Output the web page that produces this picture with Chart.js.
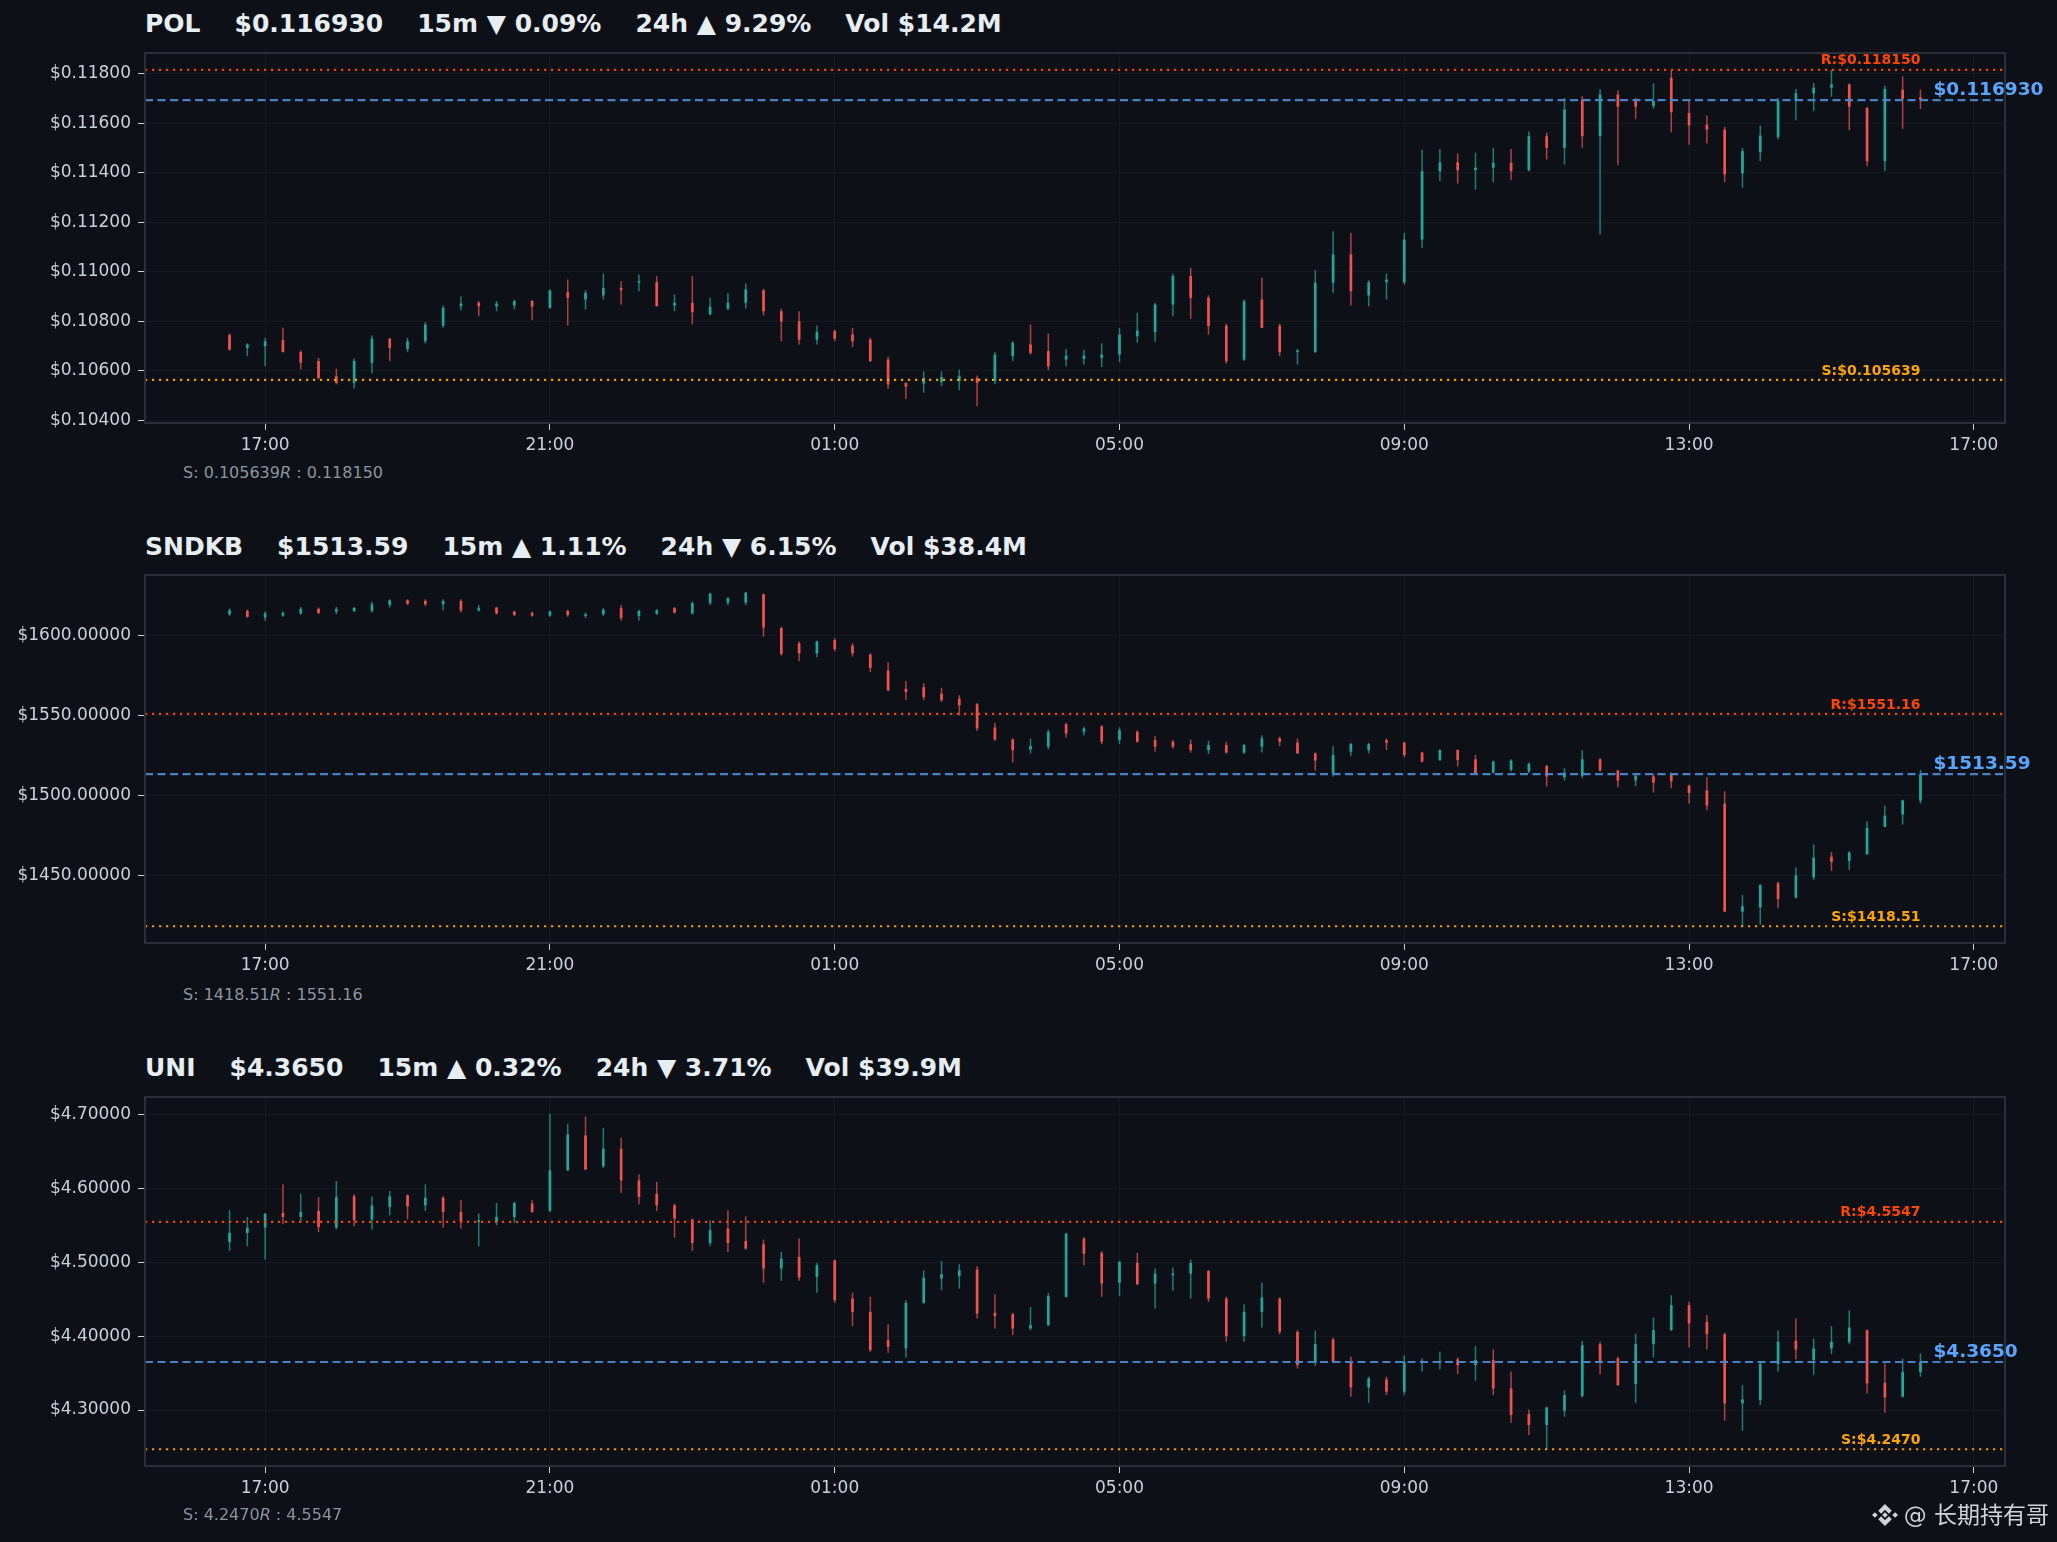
<!DOCTYPE html>
<html>
<head>
<meta charset="utf-8">
<script src="https://cdn.jsdelivr.net/npm/chart.js@4.4.1/dist/chart.umd.min.js"></script>
<style>
  html, body { margin: 0; padding: 0; background: #0d1117; }
  #page { position: relative; width: 2057px; height: 1542px; overflow: hidden; background: #0d1117; font-family: "DejaVu Sans", sans-serif; }
  .title { position: absolute; left: 145px; height: 30px; line-height: 30px; font-weight: bold; font-size: 25px; color: #e6edf3; white-space: pre; }
  .title span + span { margin-left: 34px; }
  .note { position: absolute; left: 183px; height: 20px; line-height: 20px; font-size: 16px; color: #8b949e; white-space: pre; }
  .panel { position: absolute; left: 0; width: 2057px; }
  .mark { position: absolute; right: 8px; top: 1500px; height: 30px; line-height: 30px; font-size: 23px; color: #d0d4da; font-family: "DejaVu Sans", "Noto Sans CJK SC", sans-serif; white-space: pre; display: flex; align-items: center; }
  .mark svg { margin-right: 6px; }
</style>
</head>
<body>
<div id="page">
  <div class="title" style="top:9px"><span>POL</span><span>$0.116930</span><span>15m ▼ 0.09%</span><span>24h ▲ 9.29%</span><span>Vol $14.2M</span></div>
  <div class="panel" style="top:43px;height:420px"><canvas id="c1"></canvas></div>
  <div class="note" style="top:463px">S: 0.105639<i>R</i> : 0.118150</div>

  <div class="title" style="top:532px"><span>SNDKB</span><span>$1513.59</span><span>15m ▲ 1.11%</span><span>24h ▼ 6.15%</span><span>Vol $38.4M</span></div>
  <div class="panel" style="top:565px;height:418px"><canvas id="c2"></canvas></div>
  <div class="note" style="top:985px">S: 1418.51<i>R</i> : 1551.16</div>

  <div class="title" style="top:1053px"><span>UNI</span><span>$4.3650</span><span>15m ▲ 0.32%</span><span>24h ▼ 3.71%</span><span>Vol $39.9M</span></div>
  <div class="panel" style="top:1087px;height:419px"><canvas id="c3"></canvas></div>
  <div class="note" style="top:1505px">S: 4.2470<i>R</i> : 4.5547</div>

  <div class="mark"><svg width="26" height="26" viewBox="0 0 100 100" fill="#d0d4da">
    <polygon points="0,50 11,39 22,50 11,61"/><polygon points="78,50 89,39 100,50 89,61"/>
    <polygon points="39,50 50,39 61,50 50,61"/>
    <polygon points="50,8 76,34 65,45 50,30 35,45 24,34"/><polygon points="50,92 76,66 65,55 50,70 35,55 24,66"/>
  </svg>@ 长期持有哥</div>
</div>
<script>
// 15-minute candles, 16:30 -> 16:15 next day
const times = [
  '16:30','16:45','17:00','17:15','17:30','17:45','18:00','18:15','18:30','18:45',
  '19:00','19:15','19:30','19:45','20:00','20:15','20:30','20:45','21:00','21:15',
  '21:30','21:45','22:00','22:15','22:30','22:45','23:00','23:15','23:30','23:45',
  '00:00','00:15','00:30','00:45','01:00','01:15','01:30','01:45','02:00','02:15',
  '02:30','02:45','03:00','03:15','03:30','03:45','04:00','04:15','04:30','04:45',
  '05:00','05:15','05:30','05:45','06:00','06:15','06:30','06:45','07:00','07:15',
  '07:30','07:45','08:00','08:15','08:30','08:45','09:00','09:15','09:30','09:45',
  '10:00','10:15','10:30','10:45','11:00','11:15','11:30','11:45','12:00','12:15',
  '12:30','12:45','13:00','13:15','13:30','13:45','14:00','14:15','14:30','14:45',
  '15:00','15:15','15:30','15:45','16:00','16:15'
];
const xTickTimes = [17, 21, 25, 29, 33, 37, 41];
const xTickLabels = ['17:00', '21:00', '01:00', '05:00', '09:00', '13:00', '17:00'];

// POL
const polOpen = [0.10745,0.10693,0.10700,0.10724,0.10676,0.10640,0.10579,0.10552,0.10633,0.10730,0.10689,0.10720,0.10783,0.10861,0.10875,0.10861,0.10864,0.10882,0.10855,0.10918,0.10888,0.10905,0.10935,0.10956,0.10958,0.10864,0.10875,0.10828,0.10851,0.10875,
  0.10926,0.10841,0.10800,0.10726,0.10761,0.10747,0.10726,0.10646,0.10552,0.10549,0.10555,0.10559,0.10572,0.10559,0.10660,0.10707,0.10680,0.10646,0.10649,0.10653,0.10666,0.10740,0.10757,0.10868,0.10983,0.10895,0.10783,0.10646,0.10888,0.10783,
  0.10676,0.10676,0.10956,0.11070,0.10905,0.10958,0.10958,0.11130,0.11406,0.11442,0.11410,0.11420,0.11440,0.11410,0.11547,0.11500,0.11695,0.11547,0.11715,0.11689,0.11668,0.11783,0.11641,0.11594,0.11574,0.11397,0.11483,0.11544,0.11689,0.11720,
  0.11743,0.11756,0.11661,0.11446,0.11735,0.117035];
const polHigh = [0.10751,0.10711,0.10734,0.10774,0.10683,0.10653,0.10609,0.10650,0.10743,0.10734,0.10734,0.10797,0.10864,0.10902,0.10882,0.10882,0.10888,0.10886,0.10929,0.10969,0.10926,0.10993,0.10962,0.10989,0.10983,0.10909,0.10983,0.10895,0.10915,0.10953,
  0.10931,0.10851,0.10841,0.10783,0.10767,0.10774,0.10734,0.10657,0.10554,0.10599,0.10599,0.10606,0.10582,0.10676,0.10720,0.10788,0.10751,0.10689,0.10686,0.10711,0.10774,0.10835,0.10875,0.10993,0.11016,0.10905,0.10791,0.10888,0.10976,0.10791,
  0.10689,0.11007,0.11164,0.11157,0.10966,0.10993,0.11157,0.11493,0.11496,0.11477,0.11480,0.11500,0.11496,0.11566,0.11561,0.11702,0.11709,0.11738,0.11733,0.11702,0.11760,0.11815,0.11697,0.11631,0.11585,0.11500,0.11590,0.11702,0.11738,0.11762,
  0.11815,0.11760,0.11666,0.11752,0.11789,0.11735];
const polLow = [0.10683,0.10660,0.10619,0.10676,0.10606,0.10566,0.10546,0.10529,0.10590,0.10640,0.10676,0.10711,0.10774,0.10844,0.10821,0.10841,0.10848,0.10805,0.10851,0.10783,0.10848,0.10888,0.10868,0.10922,0.10861,0.10841,0.10788,0.10824,0.10845,0.10852,
  0.10824,0.10720,0.10707,0.10707,0.10720,0.10697,0.10636,0.10528,0.10487,0.10512,0.10539,0.10522,0.10458,0.10546,0.10640,0.10666,0.10603,0.10619,0.10626,0.10616,0.10636,0.10714,0.10717,0.10821,0.10811,0.10747,0.10630,0.10640,0.10774,0.10660,
  0.10626,0.10673,0.10915,0.10864,0.10861,0.10888,0.10949,0.11097,0.11366,0.11356,0.11332,0.11362,0.11370,0.11406,0.11453,0.11433,0.11500,0.11151,0.11430,0.11617,0.11658,0.11563,0.11513,0.11518,0.11362,0.11339,0.11446,0.11534,0.11612,0.11648,
  0.11706,0.11571,0.11426,0.11406,0.11577,0.11657];
const polClose = [0.10686,0.10707,0.10720,0.10676,0.10633,0.10572,0.10552,0.10640,0.10730,0.10693,0.10720,0.10787,0.10855,0.10872,0.10861,0.10872,0.10882,0.10859,0.10925,0.10895,0.10915,0.10935,0.10926,0.10962,0.10861,0.10875,0.10837,0.10859,0.10875,0.10929,
  0.10841,0.10800,0.10726,0.10757,0.10730,0.10720,0.10640,0.10546,0.10536,0.10572,0.10576,0.10579,0.10552,0.10666,0.10714,0.10673,0.10619,0.10662,0.10662,0.10666,0.10747,0.10763,0.10868,0.10983,0.10895,0.10781,0.10640,0.10882,0.10774,0.10676,
  0.10680,0.10956,0.11070,0.10922,0.10958,0.10969,0.11130,0.11406,0.11442,0.11410,0.11420,0.11440,0.11406,0.11547,0.11500,0.11655,0.11547,0.11715,0.11666,0.11666,0.11689,0.11644,0.11590,0.11574,0.11393,0.11487,0.11550,0.11689,0.11720,0.11743,
  0.11756,0.11666,0.11446,0.11738,0.11698,0.11693];
const polTicks = [0.104, 0.106, 0.108, 0.110, 0.112, 0.114, 0.116, 0.118];

// SNDKB
const sndkbOpen = [1613.4,1615.5,1611.4,1612.6,1613.9,1616.8,1615.1,1615.5,1615.5,1619.2,1622.1,1621.7,1619.7,1621.7,1615.9,1617.6,1615.1,1614.3,1612.6,1615.5,1612.4,1613.4,1617.2,1612.4,1613.9,1617.2,1613.9,1620.5,1620.7,1620.7,
  1625.9,1604.8,1595.2,1589.0,1597.3,1593.8,1588.2,1578.3,1566.9,1567.9,1563.8,1560.7,1557.2,1542.7,1535.2,1529.0,1530.7,1544.8,1540.0,1543.5,1534.8,1540.0,1534.8,1533.8,1532.3,1528.6,1531.7,1527.0,1530.7,1535.9,
  1533.2,1526.5,1514.1,1527.6,1528.6,1534.8,1533.2,1527.0,1522.4,1528.6,1522.8,1514.5,1516.2,1515.2,1518.7,1511.6,1512.5,1522.8,1515.8,1509.6,1512.1,1513.7,1506.3,1503.4,1495.1,1427.6,1430.3,1445.4,1436.5,1449.0,
  1462.0,1459.3,1463.4,1480.6,1488.3,1497.0];
const sndkbHigh = [1617.0,1616.3,1615.1,1615.1,1618.0,1617.6,1618.0,1618.0,1621.3,1622.8,1622.8,1622.8,1622.8,1622.8,1619.2,1618.0,1615.5,1615.1,1615.9,1616.3,1614.5,1617.2,1619.2,1616.3,1616.6,1618.0,1621.3,1626.9,1624.2,1627.5,
  1626.3,1605.6,1596.5,1596.9,1598.6,1595.2,1589.0,1583.4,1571.7,1570.4,1567.5,1562.8,1558.0,1545.6,1535.9,1535.9,1541.4,1545.6,1543.1,1544.1,1542.7,1541.0,1537.3,1534.8,1535.2,1534.4,1533.8,1532.3,1537.9,1536.9,
  1535.9,1527.0,1531.1,1533.2,1533.2,1535.9,1533.8,1527.6,1529.0,1529.0,1525.5,1522.0,1522.8,1520.8,1519.3,1517.2,1528.6,1523.4,1516.2,1513.7,1513.7,1514.5,1506.9,1511.6,1502.8,1438.0,1444.8,1446.3,1455.2,1469.6,
  1464.9,1465.5,1484.1,1493.9,1497.6,1516.2];
const sndkbLow = [1612.4,1611.4,1609.3,1611.8,1613.0,1613.4,1613.4,1614.9,1614.5,1617.6,1619.2,1618.6,1615.9,1614.5,1615.1,1613.4,1612.4,1611.8,1611.8,1611.8,1611.0,1612.4,1609.3,1609.3,1613.0,1613.9,1613.4,1619.2,1619.2,1619.2,
  1599.4,1587.6,1584.1,1586.6,1590.3,1587.0,1577.2,1565.4,1559.7,1559.7,1558.6,1550.3,1540.6,1534.4,1520.8,1526.5,1529.0,1536.5,1537.9,1532.3,1532.3,1533.2,1527.6,1529.6,1527.0,1526.1,1526.5,1526.1,1527.0,1531.1,
  1526.1,1515.8,1512.1,1524.9,1526.5,1528.6,1524.1,1520.8,1521.8,1518.3,1513.7,1513.7,1515.2,1514.1,1505.9,1509.6,1511.0,1515.2,1505.4,1505.9,1502.1,1504.8,1495.1,1491.0,1427.6,1418.51,1419.4,1429.7,1435.9,1447.5,
  1453.1,1453.7,1463.4,1480.6,1482.1,1495.1];
const sndkbClose = [1615.9,1611.8,1613.9,1614.3,1616.8,1614.3,1616.6,1617.4,1619.7,1622.1,1620.0,1619.7,1621.7,1615.9,1617.2,1613.9,1613.0,1612.6,1615.1,1613.0,1613.4,1616.3,1611.0,1615.5,1615.9,1614.5,1620.5,1626.3,1623.4,1626.9,
  1605.2,1588.6,1589.0,1596.5,1591.7,1589.0,1579.9,1565.9,1564.8,1561.7,1559.7,1556.5,1542.1,1535.2,1528.6,1531.1,1540.0,1539.0,1542.1,1533.8,1541.0,1533.8,1530.7,1530.7,1528.6,1531.7,1527.0,1531.7,1535.9,1533.8,
  1526.5,1522.0,1525.5,1532.3,1532.3,1533.2,1525.5,1521.4,1528.6,1522.4,1514.1,1521.4,1522.0,1520.0,1512.1,1514.5,1522.8,1515.8,1509.6,1512.5,1508.3,1509.0,1501.7,1493.9,1427.6,1431.0,1444.2,1435.5,1450.4,1461.4,
  1458.7,1464.5,1480.0,1487.6,1497.2,1513.59];
const sndkbTicks = [1450, 1500, 1550, 1600];

// UNI
const uniOpen = [4.5275,4.5396,4.5468,4.5667,4.5613,4.5694,4.5468,4.5892,4.5577,4.5748,4.5905,4.5770,4.5874,4.5680,4.5545,4.5545,4.5613,4.5793,4.5694,4.6243,4.6716,4.6297,4.6536,4.6108,4.5928,4.5770,4.5577,4.5261,4.5455,4.5288,
  4.5243,4.4914,4.5072,4.4802,4.5027,4.4509,4.4329,4.3946,4.3833,4.4450,4.4779,4.4811,4.4901,4.4315,4.4297,4.4104,4.4149,4.4532,4.5320,4.5126,4.4721,4.4991,4.4712,4.4824,4.4847,4.4883,4.4509,4.4000,4.4329,4.4509,
  4.4059,4.3640,4.3955,4.3640,4.3306,4.3414,4.3248,4.3640,4.3640,4.3685,4.3608,4.3676,4.3293,4.2946,4.2797,4.2991,4.3189,4.3892,4.3698,4.3351,4.3892,4.4081,4.4419,4.4194,4.4027,4.3090,4.3135,4.3622,4.3937,4.3676,
  4.3833,4.3923,4.4081,4.3369,4.3180,4.3511];
const uniHigh = [4.5703,4.5613,4.5667,4.6054,4.5928,4.5883,4.6099,4.5919,4.5892,4.5964,4.5919,4.6054,4.5892,4.5847,4.5658,4.5802,4.5820,4.5838,4.7009,4.6874,4.6973,4.6820,4.6685,4.6189,4.6086,4.5793,4.5590,4.5568,4.5703,4.5622,
  4.5306,4.5140,4.5320,4.4991,4.5036,4.4586,4.4532,4.4162,4.4486,4.4892,4.5018,4.4973,4.4946,4.4568,4.4315,4.4396,4.4586,4.5396,4.5342,4.5153,4.5018,4.5126,4.4914,4.4928,4.5036,4.4892,4.4532,4.4432,4.4721,4.4523,
  4.4081,4.4072,4.3982,4.3721,4.3450,4.3450,4.3743,4.3698,4.3788,4.3712,4.3865,4.3820,4.3518,4.3009,4.3045,4.3270,4.3937,4.3923,4.3721,4.4036,4.4252,4.4554,4.4464,4.4284,4.4045,4.3338,4.3653,4.4081,4.4239,4.3968,
  4.4135,4.4351,4.4090,4.3631,4.3698,4.3766];
const uniLow = [4.5153,4.5216,4.5036,4.5514,4.5545,4.5410,4.5441,4.5486,4.5441,4.5635,4.5577,4.5694,4.5468,4.5455,4.5216,4.5500,4.5532,4.5667,4.5680,4.6234,4.6252,4.6279,4.5937,4.5784,4.5694,4.5333,4.5153,4.5216,4.5140,4.5171,
  4.4721,4.4748,4.4748,4.4586,4.4450,4.4135,4.3788,4.3775,4.3712,4.4441,4.4622,4.4644,4.4239,4.4104,4.4014,4.4081,4.4135,4.4523,4.4960,4.4532,4.4541,4.4689,4.4374,4.4613,4.4509,4.4464,4.3923,4.3923,4.4117,4.4027,
  4.3563,4.3595,4.3640,4.3180,4.3099,4.3203,4.3203,4.3518,4.3550,4.3486,4.3396,4.3203,4.2829,4.2662,4.2470,4.2910,4.3171,4.3486,4.3324,4.3099,4.3712,4.4072,4.3847,4.3820,4.2856,4.2721,4.3068,4.3518,4.3685,4.3473,
  4.3757,4.3892,4.3225,4.2964,4.3171,4.3450];
const uniClose = [4.5396,4.5468,4.5658,4.5613,4.5680,4.5477,4.5883,4.5568,4.5770,4.5892,4.5757,4.5874,4.5680,4.5545,4.5568,4.5613,4.5802,4.5680,4.6243,4.6730,4.6252,4.6536,4.6108,4.5883,4.5770,4.5590,4.5261,4.5432,4.5261,4.5185,
  4.4914,4.5050,4.4793,4.4959,4.4486,4.4329,4.3811,4.3856,4.4450,4.4793,4.4838,4.4892,4.4306,4.4270,4.4104,4.4149,4.4541,4.5387,4.5117,4.4712,4.5005,4.4703,4.4847,4.4847,4.4991,4.4509,4.4000,4.4329,4.4523,4.4059,
  4.3608,4.3892,4.3653,4.3306,4.3428,4.3248,4.3653,4.3667,4.3667,4.3608,4.3676,4.3293,4.2932,4.2797,4.3036,4.3203,4.3878,4.3653,4.3338,4.3892,4.4081,4.4419,4.4171,4.4027,4.3090,4.3144,4.3622,4.3923,4.3820,4.3833,
  4.3923,4.4117,4.3360,4.3171,4.3518,4.3650];
const uniTicks = [4.3, 4.4, 4.5, 4.6, 4.7];

const UP = '#26a69a', DOWN = '#ef5350';
const UP_WICK = 'rgba(38,166,154,0.72)', DOWN_WICK = 'rgba(239,83,80,0.72)';

// hours since midnight of the first day
const hours = [];
let dayOffset = 0;
times.forEach((t, i) => {
  const [hh, mm] = t.split(':').map(Number);
  let h = hh + mm / 60 + dayOffset;
  if (i > 0 && h < hours[i - 1]) { dayOffset += 24; h += 24; }
  hours.push(h);
});
const span = hours[hours.length - 1] - hours[0];
const xMin = hours[0] - span * 0.05;
const xMax = hours[hours.length - 1] + span * 0.05;

const levelsPlugin = {
  id: 'levels',
  afterDatasetsDraw(chart, args, o) {
    const { ctx, chartArea: a, scales: { x, y } } = chart;
    const xl = x.getPixelForValue(hours[hours.length - 1]);
    const line = (v, color, dash) => {
      const py = y.getPixelForValue(v);
      ctx.save();
      ctx.strokeStyle = color;
      ctx.lineWidth = 2.2;
      ctx.setLineDash(dash);
      ctx.beginPath();
      ctx.moveTo(a.left, py);
      ctx.lineTo(a.right, py);
      ctx.stroke();
      ctx.restore();
      return py;
    };
    const yr = line(o.resistance, 'rgba(255,69,0,0.95)', [2.2, 4.8]);
    const ys = line(o.support, 'rgba(255,165,0,0.95)', [2.2, 4.8]);
    const yc = line(o.last, 'rgba(74,136,208,0.95)', [8, 4.5]);
    ctx.save();
    ctx.font = 'bold 14px "DejaVu Sans"';
    ctx.textAlign = 'right';
    ctx.textBaseline = 'bottom';
    ctx.fillStyle = '#ff4500';
    ctx.fillText('R:$' + o.resistance.toFixed(o.digits), xl, yr - 2);
    ctx.fillStyle = '#ffa500';
    ctx.fillText('S:$' + o.support.toFixed(o.digits), xl, ys - 2);
    ctx.font = 'bold 18.5px "DejaVu Sans"';
    ctx.textAlign = 'left';
    ctx.textBaseline = 'middle';
    ctx.fillStyle = '#58a6ff';
    ctx.fillText('$' + o.last.toFixed(o.digits), xl + 13, yc - 10);
    ctx.restore();
  },
  afterDraw(chart) {
    const { ctx, chartArea: a } = chart;
    ctx.save();
    ctx.strokeStyle = '#2a2f38';
    ctx.lineWidth = 2;
    ctx.strokeRect(a.left, a.top, a.right - a.left, a.bottom - a.top);
    ctx.restore();
  }
};

function makeChart(id, open, high, low, close, yTicks, levels) {
  const lo = Math.min(...low, levels.support);
  const hi = Math.max(...high, levels.resistance);
  const pad = (hi - lo) * 0.05;
  const up = close.map((c, i) => c >= open[i]);
  return new Chart(document.getElementById(id), {
    type: 'bar',
    data: {
      datasets: [
        {
          label: 'wick',
          data: hours.map((h, i) => ({ x: h, y: [low[i], high[i]] })),
          backgroundColor: up.map(u => u ? UP_WICK : DOWN_WICK),
          barThickness: 1.5,
          grouped: false,
          borderWidth: 0,
          inflateAmount: 0,
          minBarLength: 1
        },
        {
          label: 'body',
          data: hours.map((h, i) => ({ x: h, y: [open[i], close[i]] })),
          backgroundColor: up.map(u => u ? UP : DOWN),
          barThickness: 2.7,
          grouped: false,
          borderWidth: 0,
          inflateAmount: 0,
          minBarLength: 1.5
        }
      ]
    },
    options: {
      responsive: true,
      maintainAspectRatio: false,
      animation: false,
      events: [],
      layout: { padding: { left: 0, right: 52, top: 10, bottom: 0 } },
      plugins: { legend: { display: false }, tooltip: { enabled: false }, levels: levels },
      scales: {
        x: {
          type: 'linear',
          min: xMin,
          max: xMax,
          offset: false,
          afterBuildTicks: s => { s.ticks = xTickTimes.map(v => ({ value: v })); },
          afterFit: s => { s.height = 40; s.paddingLeft = 0; s.paddingRight = 0; },
          ticks: {
            autoSkip: false, maxRotation: 0, padding: 5,
            color: '#c9d1d9', font: { size: 17, family: 'DejaVu Sans' },
            callback: (v, i) => xTickLabels[i]
          },
          grid: { offset: false, color: 'rgba(255,255,255,0.035)', tickColor: '#c9d1d9', tickLength: 7, lineWidth: 1 },
          border: { display: false }
        },
        y: {
          type: 'linear',
          min: lo - pad,
          max: hi + pad,
          afterBuildTicks: s => { s.ticks = yTicks.map(v => ({ value: v })); },
          afterFit: s => { s.width = 145; s.paddingTop = 0; s.paddingBottom = 0; },
          ticks: {
            padding: 7,
            color: '#c9d1d9', font: { size: 17, family: 'DejaVu Sans' },
            callback: v => '$' + Number(v).toFixed(5)
          },
          grid: { color: 'rgba(255,255,255,0.035)', tickColor: '#c9d1d9', tickLength: 7, lineWidth: 1 },
          border: { display: false }
        }
      }
    },
    plugins: [levelsPlugin]
  });
}

makeChart('c1', polOpen, polHigh, polLow, polClose, polTicks,
  { support: 0.105639, resistance: 0.118150, last: 0.116930, digits: 6 });
makeChart('c2', sndkbOpen, sndkbHigh, sndkbLow, sndkbClose, sndkbTicks,
  { support: 1418.51, resistance: 1551.16, last: 1513.59, digits: 2 });
makeChart('c3', uniOpen, uniHigh, uniLow, uniClose, uniTicks,
  { support: 4.2470, resistance: 4.5547, last: 4.3650, digits: 4 });
</script>
</body>
</html>
